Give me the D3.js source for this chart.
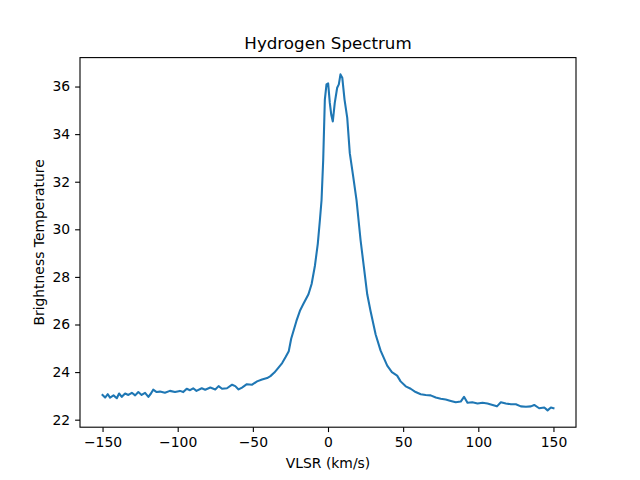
<!DOCTYPE html>
<html>
<head>
<meta charset="utf-8">
<script src="https://cdn.jsdelivr.net/npm/d3@7"></script>
<style>
  body { margin: 0; background: #fff; }
  text { font-family: "DejaVu Sans", sans-serif; }
</style>
</head>
<body>
<div id="chart"></div>
<script>
// velocity (km/s)
const vlsr = [
  -150, -148.3, -146.5, -145, -142.7, -140.5, -139, -137.2, -135, -132.8,
  -130.5, -128.3, -126.2, -124, -121.7, -119.5, -117.8, -116.3, -114, -111.8,
  -108.5, -105.2, -101.8, -98.5, -96.3, -94, -91.8, -89.7, -87.5, -84,
  -81.7, -78.3, -75, -72.8, -70.5, -67.2, -63.8, -61.7, -59.5, -57.2,
  -54, -50.5, -47.2, -43.9, -40.5, -38.3, -35.7, -32.8, -30.5, -28.3,
  -26.1, -24.5, -21, -18.5, -16.5, -13, -10.9, -8.7, -6.8, -5.4,
  -4.3, -3.2, -2.1, -1.0, 0.1, 1.2, 2.2, 3.2, 4.5, 6.1,
  7.2, 8.3, 9.5, 11, 12.8, 14.5, 16.8, 19, 21.7, 23.9,
  26.1, 28.3, 31.7, 35, 39.4, 42.5, 46, 48.3, 51.7, 55,
  58.3, 61.7, 65, 68.3, 71.7, 75, 78.3, 81.7, 85, 88.3,
  90.5, 92.8, 96, 99.5, 102.8, 106.1, 109.5, 112.4, 115, 118.3,
  121.7, 125, 128.3, 131.7, 135, 137.2, 140.5, 143.9, 146.1, 148.3,
  150
];

// brightness temperature at each velocity
const temp = [
  23.04, 22.93, 23.07, 22.93, 23.02, 22.90, 23.10, 22.96, 23.10, 23.04,
  23.13, 23.02, 23.16, 23.04, 23.13, 22.96, 23.10, 23.26, 23.16, 23.18,
  23.13, 23.21, 23.16, 23.21, 23.16, 23.30, 23.24, 23.32, 23.21, 23.32,
  23.26, 23.35, 23.27, 23.41, 23.30, 23.32, 23.47, 23.41, 23.27, 23.35,
  23.49, 23.47, 23.61, 23.69, 23.75, 23.83, 23.98, 24.20, 24.38, 24.62,
  24.88, 25.40, 26.15, 26.60, 26.85, 27.27, 27.70, 28.47, 29.39, 30.38,
  31.22, 32.90, 35.45, 36.09, 36.13, 35.31, 34.80, 34.53, 35.31, 35.95,
  36.09, 36.51, 36.37, 35.45, 34.68, 33.20, 32.20, 31.22, 29.53, 28.40,
  27.27, 26.57, 25.58, 24.90, 24.27, 24.00, 23.85, 23.61, 23.40, 23.30,
  23.16, 23.07, 23.04, 23.02, 22.93, 22.88, 22.85, 22.79, 22.73, 22.76,
  22.96, 22.71, 22.73, 22.68, 22.71, 22.68, 22.62, 22.56, 22.73, 22.68,
  22.65, 22.65, 22.56, 22.54, 22.56, 22.62, 22.48, 22.51, 22.39, 22.51,
  22.48
];

const xTicks = [-150, -100, -50, 0, 50, 100, 150];
const yTicks = [22, 24, 26, 28, 30, 32, 34, 36];

const W = 640, H = 480;
const M = { left: 80, right: 576, top: 57.6, bottom: 427.2 };

const svg = d3.select("#chart").append("svg")
  .attr("width", W).attr("height", H);

// matplotlib style 5% margins
const xMin = d3.min(vlsr), xMax = d3.max(vlsr);
const yMin = d3.min(temp), yMax = d3.max(temp);
const xPad = (xMax - xMin) * 0.05, yPad = (yMax - yMin) * 0.05;

const x = d3.scaleLinear().domain([xMin - xPad, xMax + xPad]).range([M.left, M.right]);
const y = d3.scaleLinear().domain([yMin - yPad, yMax + yPad]).range([M.bottom, M.top]);

const pts = vlsr.map((v, i) => [v, temp[i]]);

svg.append("path")
  .datum(pts)
  .attr("fill", "none")
  .attr("stroke", "#1f77b4")
  .attr("stroke-width", 2.08)
  .attr("stroke-linejoin", "round")
  .attr("stroke-linecap", "square")
  .attr("d", d3.line().x(d => x(d[0])).y(d => y(d[1])));

// axes
let xAxis = d3.axisBottom(x).tickValues(xTicks).tickSize(4.9).tickPadding(4.9).tickFormat(d => d < 0 ? "\u2212" + Math.abs(d) : d);
let yAxis = d3.axisLeft(y).tickValues(yTicks).tickSize(4.9).tickPadding(4.9);

const gx = svg.append("g").attr("transform", `translate(0,${M.bottom})`).call(xAxis);
const gy = svg.append("g").attr("transform", `translate(${M.left},0)`).call(yAxis);
[gx, gy].forEach(g => {
  g.select(".domain").remove();
  g.selectAll(".tick line").attr("stroke", "#000").attr("stroke-width", 1.1);
  g.selectAll(".tick text").attr("fill", "#000").style("font-size", "13.9px");
});

// frame
svg.append("rect")
  .attr("x", M.left).attr("y", M.top)
  .attr("width", M.right - M.left).attr("height", M.bottom - M.top)
  .attr("fill", "none").attr("stroke", "#000").attr("stroke-width", 1.1);

svg.append("text")
  .attr("x", (M.left + M.right) / 2).attr("y", M.top - 8.5)
  .attr("text-anchor", "middle")
  .style("font-size", "16.7px")
  .text("Hydrogen Spectrum");

svg.append("text")
  .attr("x", (M.left + M.right) / 2).attr("y", 468)
  .attr("text-anchor", "middle")
  .style("font-size", "13.9px")
  .text("VLSR (km/s)");

svg.append("text")
  .attr("transform", `translate(44,${(M.top + M.bottom) / 2}) rotate(-90)`)
  .attr("text-anchor", "middle")
  .style("font-size", "13.9px")
  .text("Brightness Temperature");
</script>
</body>
</html>
